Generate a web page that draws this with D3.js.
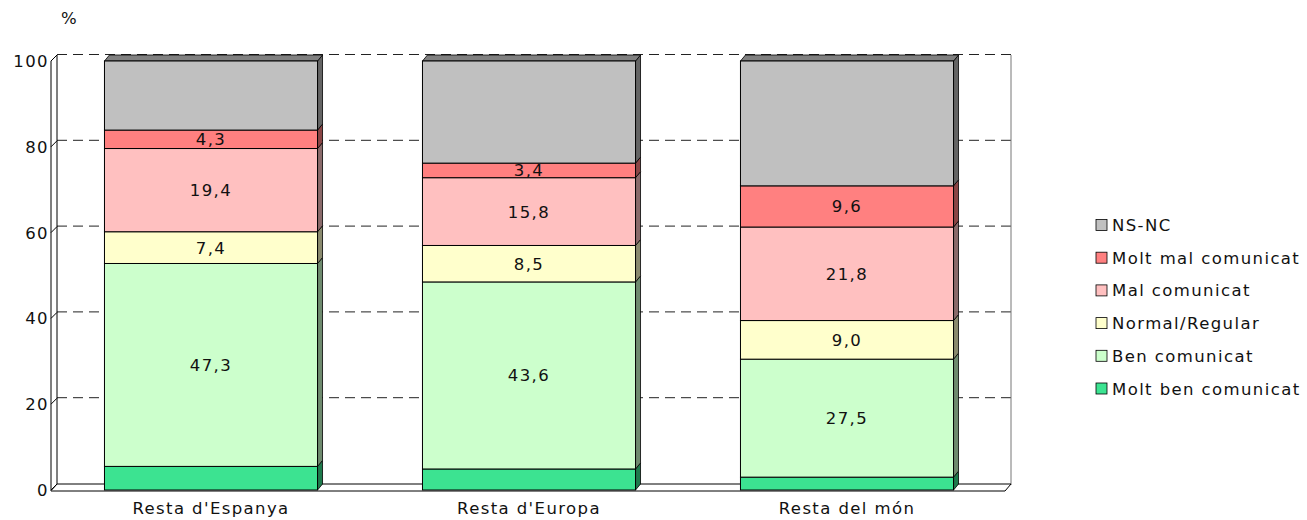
<!DOCTYPE html>
<html>
<head>
<meta charset="utf-8">
<script src="https://cdn.jsdelivr.net/npm/d3@7"></script>
<style>
  body { margin: 0; background: #fff; }
  text { font-family: "DejaVu Sans", Verdana, sans-serif; font-size: 16.5px; letter-spacing: 1.4px; fill: #111; }
</style>
</head>
<body>
<div id="chart"></div>
<script>
let width = 1307,
    height = 520;

// data
let categories = ["Resta d'Espanya", "Resta d'Europa", "Resta del món"];
let seriesNames = ["Molt ben comunicat", "Ben comunicat", "Normal/Regular", "Mal comunicat", "Molt mal comunicat", "NS-NC"];
let moltBen   = [5.5, 4.9, 3.0];
let ben       = [47.3, 43.6, 27.5];
let normal    = [7.4, 8.5, 9.0];
let mal       = [19.4, 15.8, 21.8];
let moltMal   = [4.3, 3.4, 9.6];
let nsnc      = [16.1, 23.8, 29.1];
let yTicks = [0, 20, 40, 60, 80, 100];
let showLabel = [false, true, true, true, true, false];

let fills = ["#3CE391", "#CCFFCC", "#FFFFCC", "#FFC0C0", "#FF8080", "#C0C0C0"];
let sides = ["#1E7A4C", "#6E8A6E", "#8A8A6E", "#8A6A6A", "#8A4545", "#646464"];

let seriesValues = [moltBen, ben, normal, mal, moltMal, nsnc];

// depth offsets of the 3d look
let dx = 6, dy = 6;
let bdx = 5, bdy = 6;

let svg = d3.select("#chart").append("svg")
    .attr("width", width)
    .attr("height", height);

let yScale = d3.scaleLinear().domain([0, 100]).range([490, 61]);
let xScale = d3.scaleBand()
    .domain(categories)
    .range([52, 1006])
    .paddingInner(0.33)
    .paddingOuter(0.165);

let x0 = 51, x1 = 1005;

// back wall gridlines
svg.selectAll(".grid")
    .data(yTicks.filter(d => d > 0))
    .enter().append("line")
    .attr("x1", x0 + dx).attr("x2", x1 + dx)
    .attr("y1", d => yScale(d) - dy - 0.5).attr("y2", d => yScale(d) - dy - 0.5)
    .attr("stroke", "#222")
    .attr("stroke-dasharray", "10,6");

// back wall right edge
svg.append("line")
    .attr("x1", x1 + dx).attr("x2", x1 + dx)
    .attr("y1", yScale(100) - dy).attr("y2", yScale(0) - dy + 1)
    .attr("stroke", "#777");

// floor
svg.append("path")
    .attr("d", "M" + x0 + "," + (yScale(0) + 1) + " L" + (x0 + dx) + "," + (yScale(0) - dy) +
        " L" + (x1 + dx) + "," + (yScale(0) - dy) + " L" + x1 + "," + (yScale(0) + 1) + "Z")
    .attr("fill", "#fff")
    .attr("stroke", "#000");

// left wall
svg.append("path")
    .attr("d", "M" + x0 + "," + (yScale(0) + 1) + " L" + x0 + "," + yScale(100) +
        " L" + (x0 + dx) + "," + (yScale(100) - dy) + " L" + (x0 + dx) + "," + (yScale(0) - dy))
    .attr("fill", "#fff")
    .attr("stroke", "#000");

svg.selectAll(".tickdiag")
    .data(yTicks)
    .enter().append("line")
    .attr("x1", x0).attr("x2", x0 + dx)
    .attr("y1", d => yScale(d)).attr("y2", d => yScale(d) - dy)
    .attr("stroke", "#000");

svg.selectAll(".ylab")
    .data(yTicks)
    .enter().append("text")
    .attr("x", x0 - 2)
    .attr("y", d => yScale(d) + 6)
    .attr("text-anchor", "end")
    .text(d => d);

svg.append("text")
    .attr("x", 61)
    .attr("y", 24)
    .text("%");

// stacked segments
let segs = [];
categories.forEach(function(c, i) {
    let acc = 0;
    seriesValues.forEach(function(vals, s) {
        segs.push({cat: c, s: s, y0: acc, y1: acc + vals[i], v: vals[i], top: s === seriesValues.length - 1});
        acc += vals[i];
    });
});

let bw = xScale.bandwidth();
let bars = svg.selectAll(".seg")
    .data(segs)
    .enter().append("g")
    .attr("class", "seg");

bars.append("path")
    .attr("d", function(d) {
        let xr = xScale(d.cat) + bw;
        return "M" + xr + "," + yScale(d.y0) + " L" + (xr + bdx) + "," + (yScale(d.y0) - bdy) +
            " L" + (xr + bdx) + "," + (yScale(d.y1) - bdy) + " L" + xr + "," + yScale(d.y1) + "Z";
    })
    .attr("fill", d => sides[d.s])
    .attr("stroke", "#000")
    .attr("stroke-width", 0.8);

bars.filter(d => d.top).append("path")
    .attr("d", function(d) {
        let xl = xScale(d.cat), xr = xl + bw, yt = yScale(d.y1);
        return "M" + xl + "," + yt + " L" + (xl + bdx) + "," + (yt - bdy) +
            " L" + (xr + bdx) + "," + (yt - bdy) + " L" + xr + "," + yt + "Z";
    })
    .attr("fill", "#808080")
    .attr("stroke", "#000")
    .attr("stroke-width", 0.8);

bars.append("rect")
    .attr("x", d => xScale(d.cat))
    .attr("y", d => yScale(d.y1))
    .attr("width", bw)
    .attr("height", d => yScale(d.y0) - yScale(d.y1))
    .attr("fill", d => fills[d.s])
    .attr("stroke", "#000")
    .attr("stroke-width", 1);

bars.filter(d => showLabel[d.s]).append("text")
    .attr("x", d => xScale(d.cat) + bw / 2)
    .attr("y", d => (yScale(d.y0) + yScale(d.y1)) / 2 + 6)
    .attr("text-anchor", "middle")
    .text(d => d.v.toFixed(1).replace(".", ","));

// category labels
svg.selectAll(".xlab")
    .data(categories)
    .enter().append("text")
    .attr("x", d => xScale(d) + bw / 2)
    .attr("y", 514)
    .attr("text-anchor", "middle")
    .text(d => d);

// legend
let legendOrder = seriesNames.map((n, i) => i).reverse();
let legend = svg.selectAll(".legend")
    .data(legendOrder)
    .enter().append("g")
    .attr("transform", (d, i) => "translate(1096," + (225 + i * 32.7) + ")");

legend.append("rect")
    .attr("x", 0).attr("y", -5.5)
    .attr("width", 11).attr("height", 11)
    .attr("fill", d => fills[d])
    .attr("stroke", "#000")
    .attr("stroke-width", 0.8);

legend.append("text")
    .attr("x", 16)
    .attr("y", 6)
    .text(d => seriesNames[d]);
</script>
</body>
</html>
